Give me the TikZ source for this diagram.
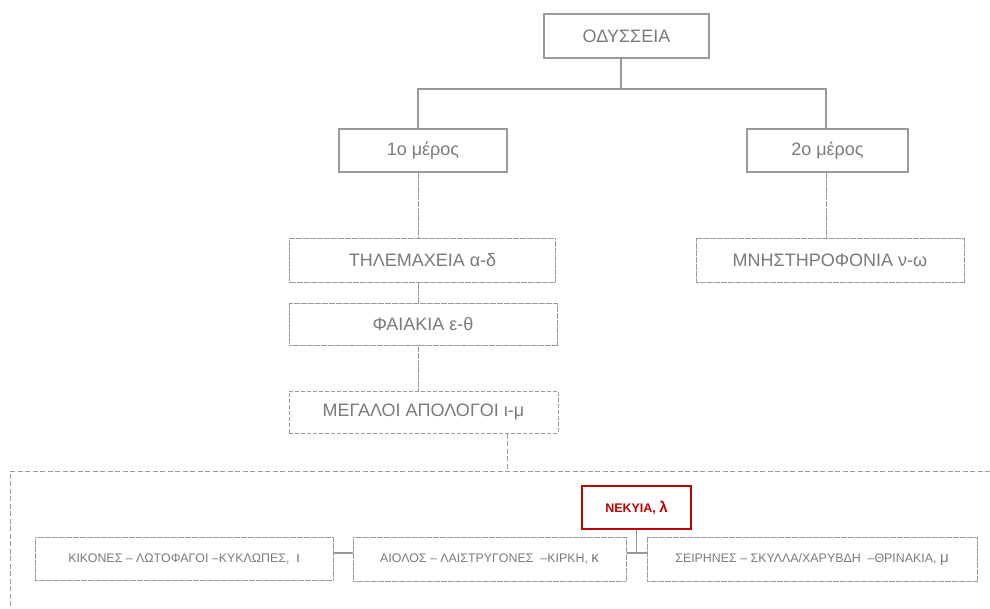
\documentclass[tikz,border=0pt]{standalone}
\usepackage{fontspec}
\setmainfont{Liberation Sans}
\usetikzlibrary{calc}
\definecolor{boxgrey}{HTML}{9A9A9A}
\definecolor{txtgrey}{HTML}{7A7A7A}
\definecolor{nekred}{HTML}{C00000}
\tikzset{
  solidbox/.style={draw=boxgrey, line width=1.2pt, text=txtgrey, font=\fontsize{18}{20}\selectfont, inner sep=0pt},
  finebox/.style={draw=boxgrey, line width=1pt, dash pattern=on 3pt off 0.5pt, text=txtgrey, font=\fontsize{18}{20}\selectfont, inner sep=0pt},
  dashbox/.style={draw=boxgrey, line width=1pt, dash pattern=on 4pt off 2pt, text=txtgrey, font=\fontsize{18}{20}\selectfont, inner sep=0pt},
  lowbox/.style={draw=boxgrey, line width=1pt, dash pattern=on 3pt off 0.5pt, text=txtgrey, font=\fontsize{12.4}{14}\selectfont, inner sep=0pt},
  redbox/.style={draw=nekred, line width=1.2pt, text=nekred, font=\fontsize{12.5}{14}\selectfont\bfseries, inner sep=0pt},
  link/.style={draw=boxgrey, line width=1.1pt},
  finelink/.style={draw=boxgrey, line width=1pt, dash pattern=on 3pt off 0.5pt},
  buslink/.style={draw=boxgrey, line width=1pt, dash pattern=on 5pt off 2.5pt},
}
\begin{document}
\begin{tikzpicture}[x=1pt,y=-1pt]
\useasboundingbox (0,0) rectangle (990,608);

% upper levels
\node[solidbox, minimum width=165pt, minimum height=44pt] (odys) at (626.5,36) {ΟΔΥΣΣΕΙΑ};
\node[solidbox, minimum width=168pt, minimum height=43pt] (part1) at (423,150.5) {1ο μέρος};
\node[solidbox, minimum width=161pt, minimum height=43pt] (part2) at (827.5,150.5) {2ο μέρος};

\node[finebox, minimum width=266pt, minimum height=44pt] (tele) at (422.5,260) {ΤΗΛΕΜΑΧΕΙΑ α-δ};
\node[finebox, minimum width=268pt, minimum height=44pt] (mnist) at (830,260) {ΜΝΗΣΤΗΡΟΦΟΝΙΑ ν-ω};
\node[finebox, minimum width=268pt, minimum height=42pt] (faiak) at (423,324) {ΦΑΙΑΚΙΑ ε-θ};
\node[dashbox, minimum width=269pt, minimum height=42pt] (apol) at (423.5,412) {ΜΕΓΑΛΟΙ ΑΠΟΛΟΓΟΙ ι-μ};

% lower level
\node[lowbox, minimum width=298pt, minimum height=43pt] (kikon) at (184,558.5) {ΚΙΚΟΝΕΣ – ΛΩΤΟΦΑΓΟΙ –ΚΥΚΛΩΠΕΣ,\ \ \fontsize{15}{15}\selectfont ι};
\node[lowbox, minimum width=273pt, minimum height=44pt] (aiol) at (489.5,559) {ΑΙΟΛΟΣ – ΛΑΙΣΤΡΥΓΟΝΕΣ\ \ –ΚΙΡΚΗ,\ \fontsize{15}{15}\selectfont κ};
\node[lowbox, minimum width=330pt, minimum height=44pt] (seir) at (812,559) {ΣΕΙΡΗΝΕΣ – ΣΚΥΛΛΑ/ΧΑΡΥΒΔΗ\ \ –ΘΡΙΝΑΚΙΑ,\ \fontsize{15}{15}\selectfont μ};
\node[redbox, minimum width=109pt, minimum height=43pt] (nekyia) at (636.5,507.5) {ΝΕΚΥΙΑ, \fontsize{15}{15}\selectfont λ};

% column lines of the tree
\coordinate (colA) at (621,0);
\coordinate (colB) at (418,0);
\coordinate (colC) at (826,0);
\coordinate (split) at (621,89);

\draw[link] (odys.south -| colA) -- (split);
\draw[link] (split) -| (part1.north -| colB);
\draw[link] (split) -| (part2.north -| colC);
\draw[finelink] (part1.south -| colB) -- (tele.north -| colB);
\draw[finelink] (part2.south -| colC) -- (mnist.north -| colC);
\draw[finelink] (tele.south -| colB) -- (faiak.north -| colB);
\draw[finelink] (faiak.south -| colB) -- (apol.north -| colB);

% bus to the wanderings
\coordinate (drop) at ($(apol.south east)+(-51,0)$);
\coordinate (busL) at (10,471);
\coordinate (busR) at (990,471);
\coordinate (busB) at (10,608);
\draw[buslink] (drop) -- (drop |- busL);
\draw[buslink] (busR) -- (busL) -- (busB);

% links between the wanderings
\coordinate (row) at (0,553);
\draw[link] (kikon.east |- row) -- (aiol.west |- row);
\draw[link] (aiol.east |- row) -- (seir.west |- row);
\draw[link] (nekyia.south) -- (nekyia.south |- row);
\end{tikzpicture}
\end{document}
